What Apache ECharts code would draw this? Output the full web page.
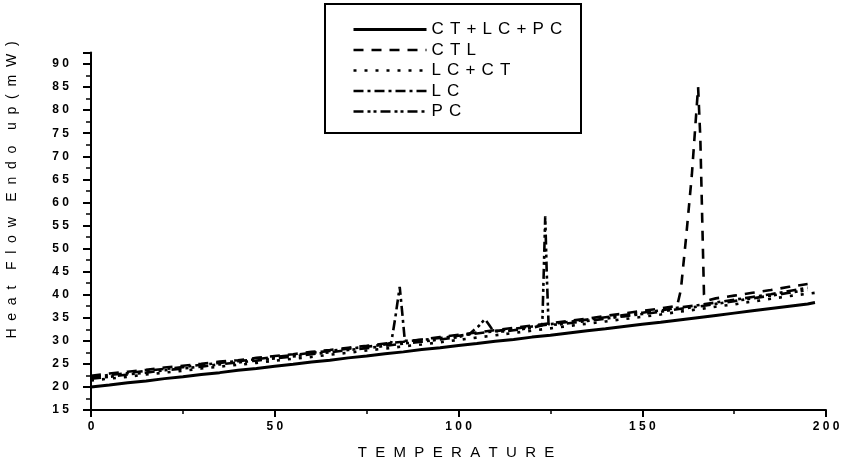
<!DOCTYPE html>
<html>
<head>
<meta charset="utf-8">
<script src="https://cdn.jsdelivr.net/npm/echarts@6/dist/echarts.min.js"></script>
<style>
  html, body { margin: 0; padding: 0; background: #fff; }
  #chart { width: 843px; height: 464px; }
</style>
</head>
<body>
<div id="chart"></div>
<script>
// DSC heat-flow traces, [temperature, heat flow (mW)]
const seriesNames = ['CT+LC+PC', 'CTL', 'LC+CT', 'LC', 'PC'];

const ctLcPc = [
  [0,20.0],[5,20.4],[10,20.9],[15,21.3],[20,21.8],[25,22.2],[30,22.7],[35,23.1],[40,23.6],[45,24.0],
  [50,24.5],[55,24.9],[60,25.4],[65,25.8],[70,26.3],[75,26.7],[80,27.2],[85,27.6],[90,28.1],[95,28.5],
  [100,29.0],[105,29.4],[110,29.9],[115,30.3],[120,30.8],[125,31.2],[130,31.7],[135,32.2],[140,32.6],[145,33.1],
  [150,33.6],[155,34.0],[160,34.5],[165,35.0],[170,35.5],[175,36.0],[180,36.5],[185,37.0],[190,37.5],[195,38.0],[197,38.3]
];

const ctl = [
  [0,22.4],[5,22.9],[10,23.3],[15,23.7],[20,24.2],[25,24.6],[30,25.0],[35,25.5],[40,25.8],[45,26.3],
  [50,26.7],[55,27.1],[60,27.6],[65,28.0],[70,28.5],[75,28.9],[80,29.4],[85,29.8],[90,30.3],[95,30.8],
  [100,31.3],[105,31.8],[110,32.3],[115,32.8],[120,33.3],[125,33.8],[130,34.3],[135,34.8],[140,35.4],[145,35.9],
  [150,36.5],[155,37.0],[159.5,37.6],[160.5,41],[162,53],[163.5,66],[165.2,85],[165.8,74],[166.3,57],[166.8,40],
  [168,38.8],[170,39.2],[175,39.8],[180,40.4],[185,41.0],[190,41.7],[195,42.3]
];

const lcCt = [
  [0,21.4],[5,21.8],[10,22.2],[15,22.7],[20,23.1],[25,23.5],[30,24.0],[35,24.4],[40,24.8],[45,25.2],
  [50,25.7],[55,26.1],[60,26.5],[65,27.0],[70,27.4],[75,27.9],[80,28.3],[85,28.8],[90,29.2],[95,29.7],
  [100,30.2],[105,30.7],[110,31.2],[115,31.7],[120,32.2],[125,32.7],[130,33.2],[135,33.7],[140,34.2],[145,34.7],
  [150,35.2],[155,35.7],[160,36.3],[165,36.8],[170,37.4],[175,37.9],[180,38.5],[185,39.1],[190,39.7],[197,40.4]
];

const lc = [
  [0,22.1],[5,22.6],[10,23.0],[15,23.5],[20,23.9],[25,24.3],[30,24.8],[35,25.2],[40,25.6],[45,26.0],
  [50,26.5],[55,26.9],[60,27.4],[65,27.8],[70,28.3],[75,28.7],[80,29.2],[81.7,29.6],[82.8,35],[84,41.7],
  [84.7,36],[85.4,30],[87,30.0],[90,30.2],[95,30.6],[100,31.1],[105,31.6],[110,32.1],[115,32.6],[120,33.1],
  [125,33.6],[130,34.1],[135,34.6],[140,35.1],[145,35.6],[150,36.1],[155,36.6],[160,37.2],[165,37.7],[170,38.3],
  [175,38.9],[180,39.5],[185,40.1],[190,40.8],[195,41.5]
];

const pc = [
  [0,21.8],[5,22.2],[10,22.7],[15,23.1],[20,23.6],[25,24.0],[30,24.4],[35,24.9],[40,25.3],[45,25.7],
  [50,26.2],[55,26.6],[60,27.1],[65,27.5],[70,28.0],[75,28.4],[80,28.9],[85,29.4],[90,29.8],[95,30.3],
  [100,30.8],[103,31.5],[105.5,33.2],[107.2,34.7],[108.3,33.5],[109.4,32.2],[112,32.0],[115,32.3],[120,32.8],[122.8,33.4],
  [123.2,45],[123.6,57],[124.0,45],[124.5,33.6],[127,33.5],[130,33.8],[135,34.3],[140,34.8],[145,35.3],[150,35.8],
  [155,36.3],[160,36.9],[165,37.4],[170,38.0],[175,38.6],[180,39.2],[185,39.8],[190,40.4],[195,41.0]
];

const seriesData = [ctLcPc, ctl, lcCt, lc, pc];

// line appearance per trace
const lineWidths = [3, 2.6, 2.6, 2.6, 2.6];
const dashTypes = ['solid', [10, 8], [3, 8], [10, 4, 3, 4], [10, 4, 3, 3, 3, 4]];

const spaced = (s, sep) => String(s).split('').join(sep || ' ');
const FONT = 'Liberation Sans, Arial, sans-serif';

const chart = echarts.init(document.getElementById('chart'), null, { renderer: 'canvas' });

chart.setOption({
  animation: false,
  backgroundColor: '#fff',
  grid: { left: 91, right: 17, top: 52.5, bottom: 54, containLabel: false },
  xAxis: {
    type: 'value',
    min: 0, max: 200, interval: 50,
    splitLine: { show: false },
    axisLine: { lineStyle: { color: '#000', width: 2 } },
    axisTick: { length: 7, lineStyle: { color: '#000', width: 2 } },
    minorTick: { show: true, splitNumber: 2, length: 4, lineStyle: { color: '#000', width: 1.5 } },
    axisLabel: { color: '#000', fontFamily: FONT, fontSize: 12, fontWeight: 'bold', margin: 11,
      formatter: v => spaced(v) }
  },
  yAxis: {
    type: 'value',
    min: 15, max: 92.5, interval: 5,
    splitLine: { show: false },
    axisLine: { lineStyle: { color: '#000', width: 2 } },
    axisTick: { length: 8, lineStyle: { color: '#000', width: 2 } },
    minorTick: { show: true, splitNumber: 2, length: 5, lineStyle: { color: '#000', width: 1.5 } },
    axisLabel: { color: '#000', fontFamily: FONT, fontSize: 12, fontWeight: 'bold', margin: 22,
      formatter: v => (v % 5 === 0 ? spaced(v) : '') }
  },
  legend: {
    orient: 'vertical',
    left: 352, top: 21,
    padding: 0,
    itemWidth: 73, itemHeight: 14, itemGap: 3.5,
    textStyle: { color: '#000', fontFamily: FONT, fontSize: 17 },
    formatter: name => spaced(name, ' \u200A'),
    data: seriesNames.map((n, i) => ({
      name: n,
      itemStyle: { opacity: 0 },
      lineStyle: { color: '#000', width: lineWidths[i], type: dashTypes[i], opacity: 1 }
    }))
  },
  graphic: [
    { type: 'rect', shape: { x: 325, y: 4, width: 256, height: 129 },
      style: { fill: 'none', stroke: '#000', lineWidth: 2 }, z: 10 },
    { type: 'text', x: 12, y: 190, rotation: Math.PI / 2,
      style: { text: 'H  e  a  t    F  l  o  w    E  n  d  o    u  p  (  m  W  )', fill: '#000',
        font: '14px ' + FONT, textAlign: 'center', textVerticalAlign: 'middle' } },
    { type: 'text', x: 456, y: 453,
      style: { text: 'T  E  M  P  E  R  A  T  U  R  E', fill: '#000',
        font: '15px ' + FONT, textAlign: 'center', textVerticalAlign: 'middle' } }
  ],
  series: seriesNames.map((n, i) => ({
    name: n,
    type: 'line',
    data: seriesData[i],
    symbol: 'none',
    smooth: false,
    lineStyle: { color: '#000', width: lineWidths[i], type: dashTypes[i] },
    itemStyle: { color: '#000' },
    z: 5 - i
  }))
});
</script>
</body>
</html>
